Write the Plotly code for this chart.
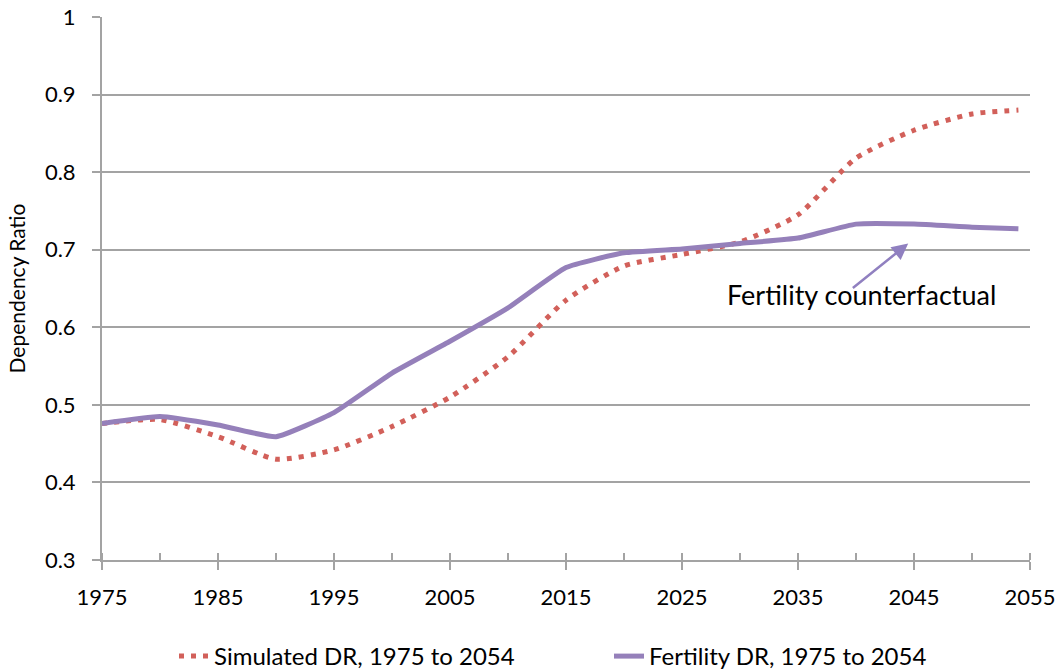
import plotly.graph_objects as go

years = [1975, 1980, 1985, 1990, 1995, 2000, 2005, 2010, 2015, 2020, 2025, 2030, 2035, 2040, 2045, 2050, 2054]
simulated_dr = [0.476, 0.481, 0.459, 0.430, 0.442, 0.472, 0.510, 0.562, 0.635, 0.679, 0.694, 0.710, 0.745, 0.818, 0.854, 0.875, 0.880]
fertility_dr = [0.476, 0.485, 0.474, 0.459, 0.490, 0.541, 0.582, 0.625, 0.677, 0.696, 0.701, 0.708, 0.715, 0.733, 0.733, 0.729, 0.727]

FONT = "Lato"
GRID = "#A3A3A3"
fig = go.Figure()
fig.add_trace(go.Scatter(x=years, y=simulated_dr, mode="lines", name="Simulated DR, 1975 to 2054",
                         legend="legend",
                         line=dict(color="#D2605A", width=5, dash="5px,7px", shape="spline", smoothing=0.6)))
fig.add_trace(go.Scatter(x=years, y=fertility_dr, mode="lines", name="Fertility DR, 1975 to 2054",
                         legend="legend2",
                         line=dict(color="#9580BA", width=5, shape="spline", smoothing=0.4)))

fig.add_annotation(x=2044.5, y=0.708, ax=2039.6, ay=0.649, axref="x", ayref="y",
                   xref="x", yref="y", text="", showarrow=True, arrowhead=2, arrowsize=1.3,
                   arrowwidth=2.5, arrowcolor="#9080C0")
fig.add_annotation(x=2040.5, y=0.642, xref="x", yref="y", text="Fertility counterfactual",
                   showarrow=False, font=dict(family=FONT, size=27, color="#000000"))

legend_common = dict(orientation="h", xanchor="left", yref="container", y=1 - 634 / 671,
                     yanchor="top", font=dict(family=FONT, size=24), bgcolor="rgba(0,0,0,0)")

fig.update_layout(
    width=1062, height=671,
    margin=dict(l=102, r=32, t=17, b=111),
    paper_bgcolor="white", plot_bgcolor="white",
    font=dict(family=FONT, size=22, color="#000000"),
    showlegend=True,
    legend=dict(x=(174 - 102) / 928, **legend_common),
    legend2=dict(x=(609 - 102) / 928, **legend_common),
    xaxis=dict(range=[1975, 2055], tick0=1975, dtick=10, ticks="outside", ticklen=8,
               tickcolor=GRID, tickwidth=2, showgrid=False, showline=True,
               linecolor=GRID, linewidth=2, zeroline=False, automargin=False,
               ticklabelstandoff=9,
               minor=dict(dtick=5, tick0=1975, ticks="inside", ticklen=7, tickcolor=GRID, tickwidth=2),
               tickfont=dict(family=FONT, size=22)),
    yaxis=dict(range=[0.3, 1.0], dtick=0.1, tick0=0.3, ticks="outside", ticklen=8,
               tickcolor=GRID, tickwidth=2, showgrid=True, gridcolor=GRID, gridwidth=2,
               showline=True, linecolor=GRID, linewidth=2, zeroline=False, automargin=False,
               ticklabelstandoff=12,
               title=dict(text="Dependency Ratio", font=dict(family=FONT, size=21), standoff=14),
               tickfont=dict(family=FONT, size=22)),
)

fig.write_html("out.html", config={"displayModeBar": False},
               post_script="document.body.style.margin='0';document.body.style.overflow='hidden';")
